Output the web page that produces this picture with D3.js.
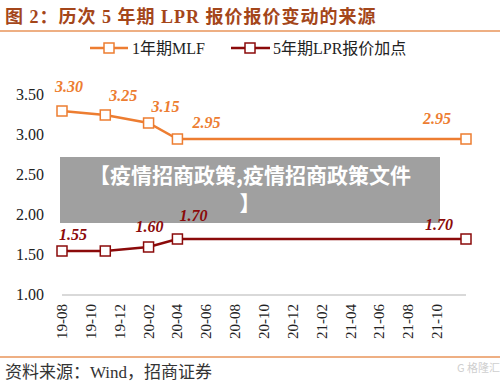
<!DOCTYPE html>
<html><head><meta charset="utf-8">
<script src="https://cdn.jsdelivr.net/npm/d3@7"></script>
<style>body{margin:0;background:#fff}svg{display:block}</style>
</head><body><svg id="c" width="500" height="382"></svg>
<script>
const tickLabels = ["19-08","19-10","19-12","20-02","20-04","20-06","20-08","20-10","20-12","21-02","21-04","21-06","21-08","21-10"];
const dates = ["19-08","19-11","20-02","20-04","21-12"];
const mlf = [3.30, 3.25, 3.15, 2.95, 2.95];
const spread = [1.55, 1.55, 1.60, 1.70, 1.70];
const spreadShowLabel = [true, false, true, true, true];
const yTicks = [1.00, 1.50, 2.00, 2.50, 3.00, 3.50];
const seriesNames = ["1年期MLF", "5年期LPR报价加点"];

// label placement (layout only)
const mlfOff = [[7,-24],[18,-19],[17,-16],[29,-16],[-29,-20]];
const sprOff = [[11,-16],[0,0],[1,-20],[16,-23],[-27,-14]];

const svg = d3.select("#c");
const serif = "'Liberation Serif','Times New Roman','Noto Sans CJK SC',serif";
const C1 = "#ed7d31", C2 = "#8b0a0a";
const idx = s => { const [y,m] = s.split("-").map(Number); return y*12 + m; };

const x = d3.scaleLinear().domain([idx(dates[0]), idx(dates[dates.length-1])]).range([62, 466]);
const y = d3.scaleLinear().domain([1, 3.5]).range([295, 95]);

// title
svg.append("text").attr("x",5).attr("y",23).attr("font-family",serif).attr("font-weight","bold")
  .attr("font-size",18).attr("letter-spacing",1).attr("fill","#a4461a").text("图 2：历次 5 年期 LPR 报价报价变动的来源");
svg.append("line").attr("x1",0).attr("x2",500).attr("y1",31).attr("y2",31).attr("stroke","#e8955a").attr("stroke-width",1.5);

// legend
const lg = [[90,128,109,132,C1],[231,270,250,273,C2]];
lg.forEach((l,i)=>{
  svg.append("line").attr("x1",l[0]).attr("x2",l[1]).attr("y1",48).attr("y2",48).attr("stroke",l[4]).attr("stroke-width",2.5);
  svg.append("rect").attr("x",l[2]-5).attr("y",43).attr("width",10).attr("height",10).attr("fill","#fff").attr("stroke",l[4]).attr("stroke-width",1.5);
  svg.append("text").attr("x",l[3]).attr("y",54).attr("font-family",serif).attr("font-size",16).attr("fill","#222").text(seriesNames[i]);
});

// y axis labels
svg.append("g").selectAll("text").data(yTicks).join("text")
  .attr("x",44).attr("y",d=>y(d)+5).attr("text-anchor","end").attr("font-family",serif)
  .attr("font-size",16).attr("fill","#222").text(d=>d.toFixed(2));

// baseline
svg.append("line").attr("x1",62).attr("x2",466).attr("y1",y(1)).attr("y2",y(1)).attr("stroke","#d9d9d9").attr("stroke-width",2);

// x tick labels
svg.append("g").selectAll("text").data(tickLabels).join("text")
  .attr("transform",d=>`translate(${x(idx(d))+5},304) rotate(-90)`)
  .attr("text-anchor","end").attr("font-family",serif).attr("font-size",15).attr("fill","#222").text(d=>d);

const labelLayers = [];
function series(vals, color, offs, show){
  const pts = dates.map((d,i)=>[x(idx(d)), y(vals[i])]);
  svg.append("path").attr("d",d3.line()(pts)).attr("fill","none").attr("stroke",color).attr("stroke-width",2.5);
  svg.append("g").selectAll("rect").data(pts).join("rect")
    .attr("x",p=>p[0]-5).attr("y",p=>p[1]-5).attr("width",10).attr("height",10)
    .attr("fill","#fff").attr("stroke",color).attr("stroke-width",1.5);
  labelLayers.push({pts, vals, color, offs, show});
}
series(mlf, C1, mlfOff, null);
series(spread, C2, sprOff, spreadShowLabel);

// overlay banner
svg.append("rect").attr("x",60).attr("y",157).attr("width",380).attr("height",66).attr("fill","#a0a0a0");
const bf = "'Noto Sans CJK SC','Noto Sans',sans-serif";
svg.append("text").attr("x",250).attr("y",183).attr("text-anchor","middle").attr("font-family",bf)
  .attr("font-weight","bold").attr("font-size",21).attr("fill","#fff").text("【疫情招商政策,疫情招商政策文件");
svg.append("text").attr("x",250).attr("y",211).attr("text-anchor","middle").attr("font-family",bf)
  .attr("font-weight","bold").attr("font-size",21).attr("fill","#fff").text("】");

// data labels on top
labelLayers.forEach(L=>{
  svg.append("g").selectAll("text").data(L.pts.map((p,i)=>({p,i})).filter(o=>!L.show||L.show[o.i])).join("text")
    .attr("x",o=>o.p[0]+L.offs[o.i][0]).attr("y",o=>o.p[1]+L.offs[o.i][1]+5)
    .attr("text-anchor","middle").attr("font-family",serif).attr("font-size",16)
    .attr("font-weight","bold").attr("font-style","italic").attr("fill",L.color)
    .text(o=>L.vals[o.i].toFixed(2));
});

// footer
svg.append("line").attr("x1",0).attr("x2",500).attr("y1",357).attr("y2",357).attr("stroke","#e8955a").attr("stroke-width",1.5);
svg.append("text").attr("x",5).attr("y",378).attr("font-family",serif).attr("font-size",17).attr("fill","#333").text("资料来源：Wind，招商证券");
svg.append("text").attr("x",457).attr("y",372).attr("font-family",bf).attr("font-size",11).attr("fill","#cfcfcf").text("G 格隆汇");
</script></body></html>
